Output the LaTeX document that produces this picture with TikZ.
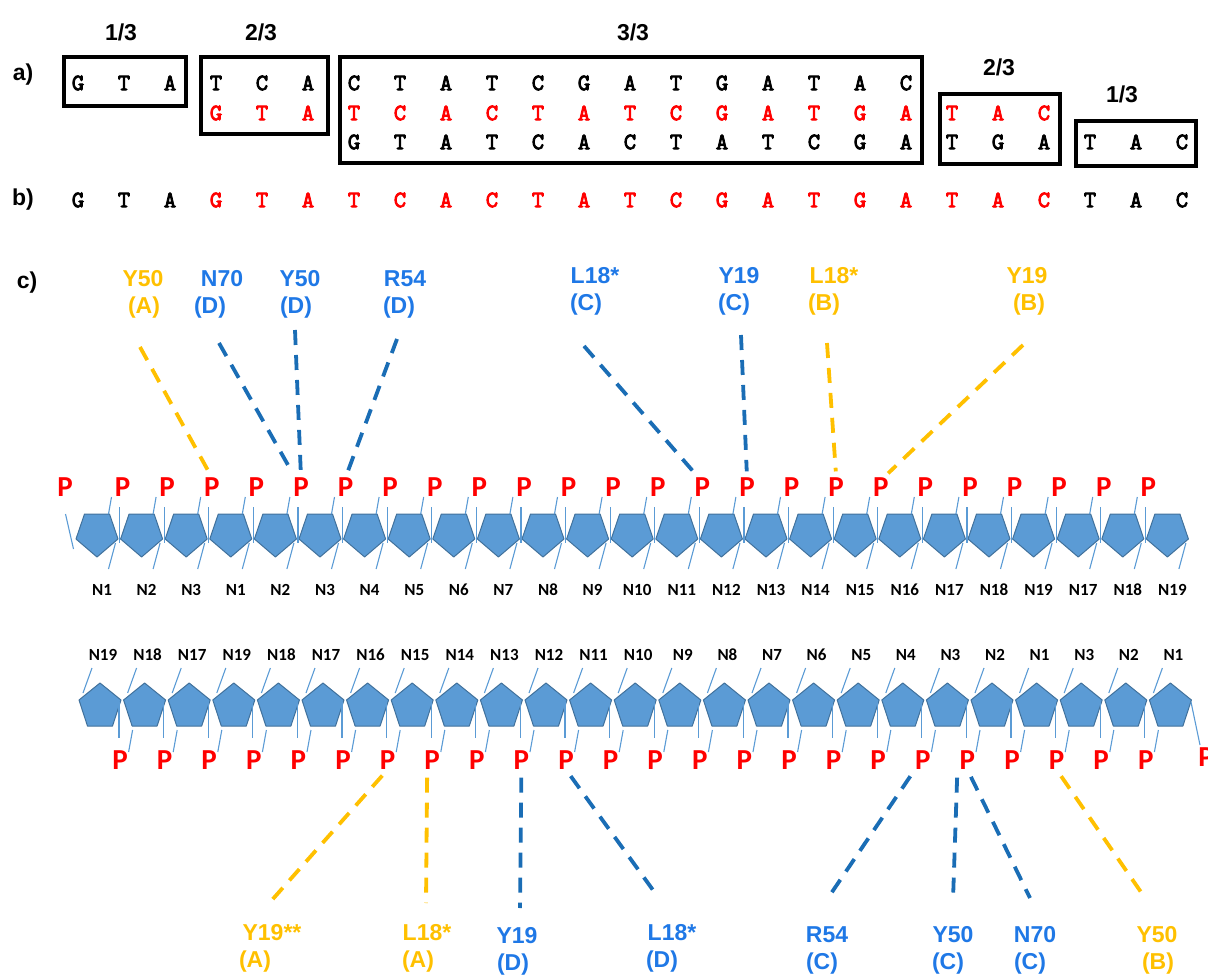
\documentclass[tikz,border=0pt]{standalone}
\usepackage{fontspec}
\setmainfont{Liberation Sans}
\newfontfamily\calf{Carlito}
\newfontfamily\courf[FakeBold=3.5]{lmmono10-regular.otf}
\definecolor{pblue}{HTML}{5B9BD5}
\definecolor{pedge}{HTML}{41719C}
\definecolor{lblue}{HTML}{1F78E6}
\definecolor{dblue}{HTML}{1A6DB5}
\definecolor{gold}{HTML}{FFC000}
\definecolor{nred}{HTML}{FF0000}
\tikzset{
  nt/.style={font=\courf\fontsize{23.5}{23.5}\selectfont, inner sep=0pt},
  rd/.style={nt, text=nred},
  bx/.style={draw=black, line width=3.2pt},
  lab/.style={font=\bfseries\fontsize{23}{23}\selectfont, inner sep=0pt},
  pp/.style={font=\calf\bfseries\fontsize{29}{29}\selectfont, text=nred, inner sep=0pt},
  nn/.style={font=\calf\bfseries\fontsize{17}{17}\selectfont, inner sep=0pt},
  cl/.style={font=\bfseries\fontsize{23}{23}\selectfont, inner sep=0pt},
  cly/.style={cl, text=gold},
  clb/.style={cl, text=lblue},
  dl/.style={line width=3.8pt, dash pattern=on 15pt off 10pt},
  dly/.style={dl, draw=gold},
  dlb/.style={dl, draw=dblue},
  tl/.style={draw=pblue, line width=1.1pt},
  pent/.style={fill=pblue, draw=pedge, line width=1pt, line join=round}
}
\begin{document}
\begin{tikzpicture}[x=1pt,y=-1pt]
\useasboundingbox (0,0) rectangle (1208,976);

% ---------- a) and b) ----------
\node[lab] (la) at (23,75) {a)};
\node[lab] (lb) at (23,200) {b)};
\node[lab] (lc) at (27,283) {c)};

\node[lab] (f1) at (121,32) {1/3};
\node[lab] (f2) at (261,32) {2/3};
\node[lab] (f3) at (633,32) {3/3};
\node[lab] (f4) at (999,67) {2/3};
\node[lab] (f5) at (1122,94) {1/3};

\draw[bx] (64,57) rectangle (186,106);
\draw[bx] (201,57) rectangle (328,134);
\draw[bx] (340,57) rectangle (922,163);
\draw[bx] (940,94) rectangle (1060,164);
\draw[bx] (1076,121) rectangle (1196,166);

% row 1
\foreach \l [count=\i] in {G,T,A,T,C,A,C,T,A,T,C,G,A,T,G,A,T,A,C}
  \node[nt] (ra\i) at ({78+46*(\i-1)},83) {\l};
% row 2
\foreach \l [count=\i from 4] in {G,T,A,T,C,A,C,T,A,T,C,G,A,T,G,A,T,A,C}
  \node[rd] (rb\i) at ({78+46*(\i-1)},113) {\l};
% row 3
\foreach \l [count=\i from 7] in {G,T,A,T,C,A,C,T,A,T,C,G,A,T,G,A,T,A,C}
  \node[nt] (rc\i) at ({78+46*(\i-1)},142) {\l};
% b)
\foreach \l [count=\i] in {G,T,A}
  \node[nt] (bs\i) at ({78+46*(\i-1)},200) {\l};
\foreach \l [count=\i from 4] in {G,T,A,T,C,A,C,T,A,T,C,G,A,T,G,A,T,A,C}
  \node[rd] (bs\i) at ({78+46*(\i-1)},200) {\l};
\foreach \l [count=\i from 23] in {T,A,C}
  \node[nt] (bs\i) at ({78+46*(\i-1)},200) {\l};

% ---------- c) top strand ----------
\foreach \k in {1,...,25}{
  \pgfmathsetmacro\cx{97+44.6*(\k-1)}
  \draw[pent] (\cx-12.5,514) -- (\cx+12.5,514) -- (\cx+21,539) -- (\cx,557) -- (\cx-21,539) -- cycle;
  \draw[tl] (\cx+18.5,543) -- (\cx+11.5,569);
  \ifnum\k>1 \draw[tl] (\cx-22,507) -- (\cx-22,543); \fi
  \ifnum\k<25 \draw[tl] (\cx+11.5,514) -- (\cx+14.5,497); \fi
  \ifnum\k>1 \node[pp] (Pt\k) at (\cx-19,487) {P}; \fi
}
\draw[tl] (65.5,514) -- (73.5,549);
\node[pp] (Pt1) at (65,487) {P};
\foreach \n [count=\k] in {1,2,3,1,2,3,4,5,6,7,8,9,10,11,12,13,14,15,16,17,18,19,17,18,19}
  \node[nn] (Nt\k) at ({97+44.6*(\k-1)+5},590) {N\n};

% ---------- c) bottom strand ----------
\foreach \k in {1,...,25}{
  \pgfmathsetmacro\cx{100+44.6*(\k-1)}
  \draw[pent] (\cx,683) -- (\cx+21,700) -- (\cx+12.5,726) -- (\cx-12.5,726) -- (\cx-21,700) -- cycle;
  \draw[tl] (\cx-17,693) -- (\cx-8,668);
  \ifnum\k<25 \draw[tl] (\cx+19,702) -- (\cx+19,738); \fi
  \ifnum\k>1 \draw[tl] (\cx-12,730) -- (\cx-16,752); \fi
  \ifnum\k<25 \node[pp] (Pb\k) at (\cx+20,760) {P}; \fi
}
\draw[tl] (1191,702) -- (1200,745);
\node[pp] (Pb25) at (1206,757) {P};
\foreach \n [count=\k] in {19,18,17,19,18,17,16,15,14,13,12,11,10,9,8,7,6,5,4,3,2,1,3,2,1}
  \node[nn] (Nb\k) at ({100+44.6*(\k-1)+3},655) {N\n};

% ---------- top labels ----------
\node[cly] (ta1) at (143,279) {Y50};  \node[cly] (tb1) at (144,308) {(A)};
\node[clb] (ta2) at (222,279) {N70};  \node[clb] (tb2) at (210,308) {(D)};
\node[clb] (ta3) at (300,279) {Y50};  \node[clb] (tb3) at (296,308) {(D)};
\node[clb] (ta4) at (405,279) {R54};  \node[clb] (tb4) at (399,308) {(D)};
\node[clb] (ta5) at (595,276) {L18*}; \node[clb] (tb5) at (586,305) {(C)};
\node[clb] (ta6) at (739,276) {Y19};  \node[clb] (tb6) at (734,305) {(C)};
\node[cly] (ta7) at (834,276) {L18*}; \node[cly] (tb7) at (824,305) {(B)};
\node[cly] (ta8) at (1027,276) {Y19}; \node[cly] (tb8) at (1029,305) {(B)};

\coordinate (te1) at (140,347);
\coordinate (te2) at (219,343);
\coordinate (te3) at (295,330);
\coordinate (te4) at (397,339);
\coordinate (te5) at (584,346);
\coordinate (te6) at (741,335);
\coordinate (te7) at (827,343);
\coordinate (te8) at (1023,345);
\draw[dly, shorten >=6pt] (te1) -- (Pt4.north);
\draw[dlb, shorten >=6pt] (te2) -- ([xshift=-6pt]Pt6.north);
\draw[dlb, shorten >=6pt] (te3) -- (Pt6.north);
\draw[dlb, shorten >=6pt] (te4) -- (Pt7.north);
\draw[dlb, shorten >=6pt] (te5) -- ([xshift=-4pt]Pt15.north);
\draw[dlb, shorten >=6pt] (te6) -- (Pt16.north);
\draw[dly, shorten >=6pt] (te7) -- (Pt18.north);
\draw[dly, shorten >=6pt] (te8) -- ([xshift=3pt]Pt19.north);

% ---------- bottom labels ----------
\node[cly] (ba1) at (272,933) {Y19**}; \node[cly] (bb1) at (255,962) {(A)};
\node[cly] (ba2) at (427,933) {L18*};  \node[cly] (bb2) at (418,962) {(A)};
\node[clb] (ba3) at (517,936) {Y19};   \node[clb] (bb3) at (513,965) {(D)};
\node[clb] (ba4) at (672,933) {L18*};  \node[clb] (bb4) at (662,962) {(D)};
\node[clb] (ba5) at (827,935) {R54};   \node[clb] (bb5) at (822,964) {(C)};
\node[clb] (ba6) at (953,935) {Y50};   \node[clb] (bb6) at (948,964) {(C)};
\node[clb] (ba7) at (1035,935) {N70};  \node[clb] (bb7) at (1030,964) {(C)};
\node[cly] (ba8) at (1157,935) {Y50};  \node[cly] (bb8) at (1158,964) {(B)};

\coordinate (be1) at (272,900);
\coordinate (be2) at (426,903);
\coordinate (be3) at (520,908);
\coordinate (be4) at (658,897);
\coordinate (be5) at (828,898);
\coordinate (be6) at (953,900);
\coordinate (be7) at (1030,898);
\coordinate (be8) at (1143,895);
\draw[dly, shorten <=8pt] (Pb7.south) -- (be1);
\draw[dly, shorten <=8pt] ([xshift=-5pt]Pb8.south) -- (be2);
\draw[dlb, shorten <=8pt] (Pb10.south) -- (be3);
\draw[dlb, shorten <=8pt] (Pb11.south) -- (be4);
\draw[dlb, shorten <=8pt] ([xshift=-8pt]Pb19.south) -- (be5);
\draw[dlb, shorten <=8pt] ([xshift=-10pt]Pb20.south) -- (be6);
\draw[dlb, shorten <=8pt] (Pb20.south) -- (be7);
\draw[dly, shorten <=8pt] (Pb22.south) -- (be8);
\end{tikzpicture}
\end{document}
